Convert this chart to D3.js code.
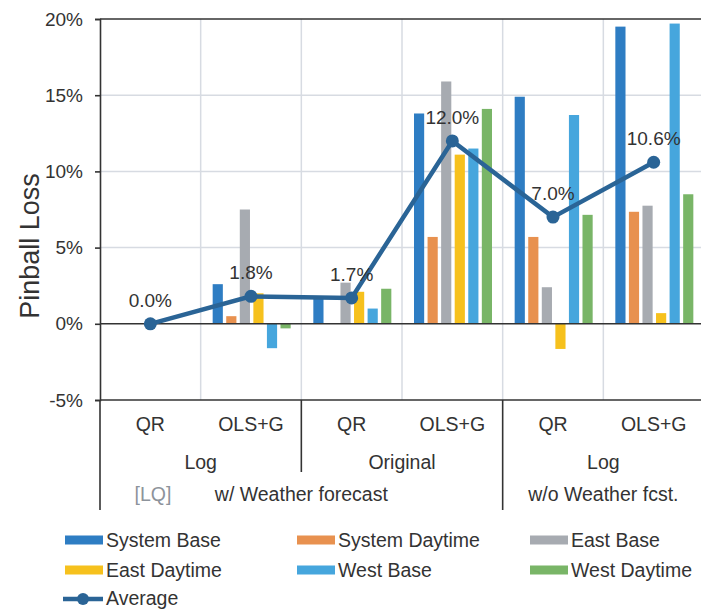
<!DOCTYPE html>
<html>
<head>
    <title>Pinball Loss</title>
    <script src="https://d3js.org/d3.v7.min.js"></script>
    <style>
        body { margin:0; background:#fff; }
        text { font-family:"Liberation Sans", Arial, sans-serif; fill:#333; }
    </style>
</head>
<body>
    <script>

    // categories (bottom level first)
    var methods = ["QR", "OLS+G", "QR", "OLS+G", "QR", "OLS+G"];
    var transforms = [{name:"Log", from:0, to:2}, {name:"Original", from:2, to:4}, {name:"Log", from:4, to:6}];
    var scenarios = [{name:"w/ Weather forecast", from:0, to:4}, {name:"w/o Weather fcst.", from:4, to:6}];

    var seriesNames = ["System Base", "System Daytime", "East Base", "East Daytime", "West Base", "West Daytime"];
    var seriesColors = ["#2e7dc3", "#e8914f", "#a7abb1", "#f6c11d", "#46a6dd", "#79b567"];

    // values in %
    var systemBase    = [0, 2.6, 1.7, 13.8, 14.9, 19.5];
    var systemDaytime = [0, 0.5, 0, 5.7, 5.7, 7.35];
    var eastBase      = [0, 7.5, 2.7, 15.9, 2.4, 7.75];
    var eastDaytime   = [0, 2.0, 2.1, 11.1, -1.65, 0.7];
    var westBase      = [0, -1.6, 1.0, 11.5, 13.7, 19.7];
    var westDaytime   = [0, -0.3, 2.3, 14.1, 7.15, 8.5];
    var average       = [0.0, 1.8, 1.7, 12.0, 7.0, 10.6];

    var yTicks = [-5, 0, 5, 10, 15, 20];

    var allSeries = [systemBase, systemDaytime, eastBase, eastDaytime, westBase, westDaytime];

    var svg = d3.select("body").append("svg")
                .attr("width", 701).attr("height", 610);

    var x = d3.scaleBand().domain(d3.range(6)).range([100, 704]);
    var xInner = d3.scaleBand().domain(d3.range(6)).range([12, 90]).paddingInner(0.25);
    var y = d3.scaleLinear().domain([-5, 20]).range([400, 19]);

    // grid
    var grid = svg.append("g");
    grid.selectAll("line.h").data([5, 10, 15]).enter().append("line")
        .attr("x1", 100).attr("x2", 704)
        .attr("y1", function(d){ return y(d); }).attr("y2", function(d){ return y(d); })
        .style("stroke", "#d7dbe2").style("stroke-width", 1.5);
    grid.selectAll("line.v").data(d3.range(1, 6)).enter().append("line")
        .attr("x1", function(d){ return x(d); }).attr("x2", function(d){ return x(d); })
        .attr("y1", y(20)).attr("y2", y(-5))
        .style("stroke", "#d7dbe2").style("stroke-width", 1.5);

    // bars
    var bars = svg.append("g");
    allSeries.forEach(function(vals, s) {
        bars.selectAll("rect.s" + s).data(vals).enter().append("rect")
            .attr("x", function(d, i){ return x(i) + xInner(s); })
            .attr("width", xInner.bandwidth())
            .attr("y", function(d){ return y(Math.max(0, d)); })
            .attr("height", function(d){ return Math.abs(y(d) - y(0)); })
            .style("fill", seriesColors[s]);
    });

    // dark lines: top, zero, bottom, left axis
    var axisG = svg.append("g").style("stroke", "#333").style("stroke-width", 1.6);
    axisG.selectAll("line.hd").data([20, 0, -5]).enter().append("line")
        .attr("x1", 100).attr("x2", 704)
        .attr("y1", function(d){ return y(d); }).attr("y2", function(d){ return y(d); });

    var yAxis = svg.append("g").attr("transform", "translate(100,0)")
        .call(d3.axisLeft(y).tickValues(yTicks).tickSize(5).tickPadding(12)
              .tickFormat(function(d){ return d + "%"; }));
    yAxis.select(".domain").style("stroke", "#333").style("stroke-width", 1.6);
    yAxis.selectAll(".tick line").style("stroke", "#333").style("stroke-width", 1.6);
    yAxis.selectAll(".tick text").style("font-size", "19px").style("fill", "#333")
        .style("font-family", "'Liberation Sans', Arial, sans-serif");

    svg.append("text").attr("transform", "translate(39,246) rotate(-90)")
        .attr("text-anchor", "middle").style("font-size", "27px")
        .text("Pinball Loss");

    // multi-level category axis
    var cat = svg.append("g");
    cat.selectAll("text.m").data(methods).enter().append("text")
        .attr("x", function(d, i){ return x(i) + x.bandwidth() / 2; })
        .attr("y", 431).attr("text-anchor", "middle").style("font-size", "19.5px")
        .text(function(d){ return d; });
    cat.selectAll("text.t").data(transforms).enter().append("text")
        .attr("x", function(d){ return (x(d.from) + x(d.to - 1) + x.bandwidth()) / 2; })
        .attr("y", 469).attr("text-anchor", "middle").style("font-size", "19.5px")
        .text(function(d){ return d.name; });
    cat.selectAll("text.sc").data(scenarios).enter().append("text")
        .attr("x", function(d){ return (x(d.from) + x(d.to - 1) + x.bandwidth()) / 2; })
        .attr("y", 501).attr("text-anchor", "middle").style("font-size", "19.5px")
        .text(function(d){ return d.name; });
    cat.append("text").attr("x", 153).attr("y", 501).attr("text-anchor", "middle")
        .style("font-size", "19.5px").style("fill", "#8d939b").text("[LQ]");

    var seps = [{i:0, y2:510}, {i:2, y2:472}, {i:4, y2:510}];
    cat.selectAll("line").data(seps).enter().append("line")
        .attr("x1", function(d){ return x(d.i); }).attr("x2", function(d){ return x(d.i); })
        .attr("y1", y(-5)).attr("y2", function(d){ return d.y2; })
        .style("stroke", "#333").style("stroke-width", 1.6);

    // average line
    var lineColor = "#2a6496";
    var cx = function(d, i){ return x(i) + x.bandwidth() / 2; };
    svg.append("path").datum(average)
        .attr("d", d3.line().x(cx).y(function(d){ return y(d); }))
        .style("fill", "none").style("stroke", lineColor).style("stroke-width", 4.5);
    svg.append("g").selectAll("circle").data(average).enter().append("circle")
        .attr("cx", cx).attr("cy", function(d){ return y(d); }).attr("r", 6.5)
        .style("fill", lineColor);
    svg.append("g").selectAll("text").data(average).enter().append("text")
        .attr("x", cx).attr("y", function(d){ return y(d) - 17; })
        .attr("text-anchor", "middle").style("font-size", "19px")
        .text(function(d){ return d.toFixed(1) + "%"; });

    // legend
    var legend = svg.append("g");
    var colX = [65, 297, 530];
    seriesNames.forEach(function(name, s) {
        var lx = colX[s % 3], ly = 540 + Math.floor(s / 3) * 30;
        legend.append("rect").attr("x", lx).attr("y", ly - 4.5).attr("width", 38).attr("height", 9)
            .style("fill", seriesColors[s]);
        legend.append("text").attr("x", lx + 41).attr("y", ly + 7).style("font-size", "19.5px")
            .text(name);
    });
    legend.append("line").attr("x1", 63).attr("x2", 103).attr("y1", 599).attr("y2", 599)
        .style("stroke", lineColor).style("stroke-width", 4.5);
    legend.append("circle").attr("cx", 83).attr("cy", 599).attr("r", 6).style("fill", lineColor);
    legend.append("text").attr("x", 106).attr("y", 605).style("font-size", "19.5px").text("Average");

    </script>
</body>
</html>
